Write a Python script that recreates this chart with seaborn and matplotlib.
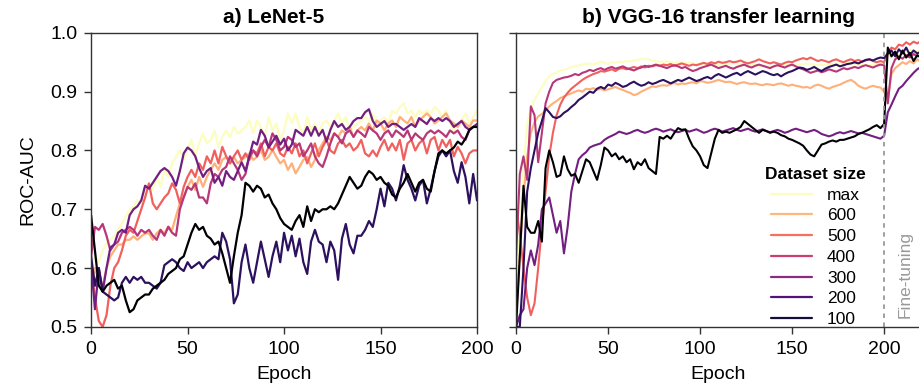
import numpy as np
import pandas as pd
import matplotlib
matplotlib.use("Agg")
import matplotlib.pyplot as plt
from matplotlib.lines import Line2D
import seaborn as sns

# Dataset sizes (legend order) and epochs
sizes = ["max", "600", "500", "400", "300", "200", "100"]
epochs_a = list(range(0, 201, 2))
epochs_b = list(range(0, 221, 2))

# a) LeNet-5, ROC-AUC read every 2 epochs
lenet_max = [0.6, 0.62, 0.61, 0.63, 0.642, 0.648, 0.654, 0.665, 0.676, 0.688,
             0.699, 0.705, 0.716, 0.71, 0.733, 0.744, 0.733, 0.755, 0.738, 0.767,
             0.755, 0.778, 0.789, 0.801, 0.784, 0.801, 0.818, 0.789, 0.812, 0.829,
             0.812, 0.818, 0.834, 0.806, 0.823, 0.834, 0.823, 0.84, 0.829, 0.834,
             0.84, 0.851, 0.829, 0.851, 0.84, 0.823, 0.857, 0.834, 0.846, 0.818,
             0.834, 0.863, 0.846, 0.863, 0.84, 0.829, 0.857, 0.834, 0.846, 0.829,
             0.846, 0.851, 0.84, 0.851, 0.863, 0.846, 0.857, 0.834, 0.84, 0.846,
             0.851, 0.857, 0.851, 0.863, 0.846, 0.851, 0.857, 0.846, 0.868, 0.863,
             0.874, 0.88, 0.863, 0.868, 0.857, 0.868, 0.863, 0.868, 0.863, 0.874,
             0.868, 0.857, 0.868, 0.846, 0.834, 0.846, 0.851, 0.863, 0.846, 0.857,
             0.868]
lenet_600 = [0.56, 0.6, 0.58, 0.57, 0.6, 0.62, 0.63, 0.64, 0.64, 0.648,
             0.648, 0.654, 0.648, 0.654, 0.659, 0.659, 0.648, 0.659, 0.665, 0.659,
             0.671, 0.665, 0.688, 0.71, 0.721, 0.738, 0.75, 0.733, 0.755, 0.738,
             0.755, 0.767, 0.778, 0.767, 0.784, 0.789, 0.778, 0.789, 0.778, 0.784,
             0.789, 0.795, 0.784, 0.789, 0.801, 0.784, 0.789, 0.801, 0.789, 0.778,
             0.784, 0.767, 0.778, 0.761, 0.772, 0.784, 0.789, 0.772, 0.784, 0.801,
             0.812, 0.823, 0.818, 0.829, 0.823, 0.834, 0.829, 0.84, 0.823, 0.834,
             0.84, 0.834, 0.846, 0.834, 0.851, 0.846, 0.834, 0.846, 0.851, 0.84,
             0.857, 0.851, 0.846, 0.857, 0.84, 0.851, 0.857, 0.863, 0.857, 0.846,
             0.851, 0.857, 0.863, 0.851, 0.846, 0.84, 0.851, 0.846, 0.84, 0.851,
             0.851]
lenet_500 = [0.6, 0.55, 0.51, 0.5, 0.52, 0.57, 0.6, 0.61, 0.63, 0.655,
             0.665, 0.66, 0.68, 0.7, 0.72, 0.744, 0.71, 0.7, 0.71, 0.72,
             0.727, 0.744, 0.733, 0.71, 0.738, 0.755, 0.767, 0.755, 0.778, 0.767,
             0.79, 0.778, 0.8, 0.778, 0.806, 0.79, 0.778, 0.79, 0.8, 0.784,
             0.795, 0.784, 0.8, 0.795, 0.812, 0.79, 0.806, 0.8, 0.812, 0.795,
             0.79, 0.806, 0.795, 0.812, 0.79, 0.8, 0.778, 0.795, 0.812, 0.79,
             0.806, 0.818, 0.8, 0.795, 0.812, 0.818, 0.806, 0.812, 0.8, 0.806,
             0.818, 0.795, 0.79, 0.8, 0.79, 0.806, 0.818, 0.8, 0.812, 0.8,
             0.818, 0.784, 0.812, 0.818, 0.8, 0.812, 0.818, 0.795, 0.818, 0.823,
             0.8, 0.818, 0.806, 0.818, 0.79, 0.806, 0.795, 0.778, 0.795, 0.8,
             0.8]
lenet_400 = [0.62, 0.67, 0.665, 0.675, 0.655, 0.63, 0.64, 0.645, 0.66, 0.665,
             0.67, 0.665, 0.655, 0.665, 0.66, 0.665, 0.655, 0.648, 0.665, 0.655,
             0.67, 0.66, 0.655, 0.7, 0.72, 0.738, 0.733, 0.744, 0.72, 0.72,
             0.71, 0.744, 0.76, 0.755, 0.767, 0.772, 0.79, 0.778, 0.767, 0.75,
             0.76, 0.79, 0.8, 0.79, 0.806, 0.818, 0.806, 0.829, 0.818, 0.8,
             0.806, 0.823, 0.818, 0.806, 0.812, 0.79, 0.8, 0.812, 0.79, 0.778,
             0.772, 0.79, 0.812, 0.829, 0.823, 0.812, 0.829, 0.834, 0.823, 0.834,
             0.829, 0.823, 0.84, 0.834, 0.829, 0.818, 0.829, 0.834, 0.823, 0.834,
             0.829, 0.823, 0.834, 0.818, 0.829, 0.823, 0.818, 0.829, 0.834, 0.829,
             0.834, 0.829, 0.823, 0.834, 0.829, 0.834, 0.823, 0.818, 0.834, 0.84,
             0.84]
lenet_300 = [0.61, 0.53, 0.6, 0.56, 0.6, 0.635, 0.64, 0.66, 0.665, 0.66,
             0.69, 0.7, 0.705, 0.715, 0.74, 0.735, 0.745, 0.755, 0.765, 0.77,
             0.765, 0.755, 0.74, 0.765, 0.795, 0.805, 0.8, 0.79, 0.77, 0.755,
             0.765, 0.77, 0.745, 0.755, 0.74, 0.765, 0.755, 0.75, 0.765, 0.78,
             0.765, 0.79, 0.815, 0.81, 0.835, 0.825, 0.805, 0.815, 0.825, 0.81,
             0.82, 0.8, 0.81, 0.835, 0.83, 0.825, 0.84, 0.825, 0.84, 0.825,
             0.835, 0.815, 0.835, 0.85, 0.84, 0.845, 0.835, 0.84, 0.85, 0.855,
             0.855, 0.865, 0.87, 0.85, 0.84, 0.845, 0.85, 0.84, 0.845, 0.845,
             0.84, 0.835, 0.84, 0.845, 0.84, 0.855, 0.85, 0.845, 0.855, 0.85,
             0.855, 0.85, 0.855, 0.85, 0.84, 0.845, 0.85, 0.84, 0.835, 0.84,
             0.845]
lenet_200 = [0.62, 0.57, 0.6, 0.56, 0.555, 0.55, 0.545, 0.55, 0.575, 0.585,
             0.575, 0.585, 0.58, 0.585, 0.575, 0.575, 0.57, 0.565, 0.575, 0.605,
             0.61, 0.615, 0.61, 0.6, 0.595, 0.61, 0.6, 0.605, 0.61, 0.6,
             0.61, 0.615, 0.62, 0.615, 0.66, 0.645, 0.615, 0.54, 0.555, 0.61,
             0.64, 0.6, 0.575, 0.61, 0.645, 0.615, 0.585, 0.62, 0.645, 0.61,
             0.66, 0.63, 0.655, 0.62, 0.65, 0.61, 0.59, 0.645, 0.665, 0.645,
             0.64, 0.61, 0.645, 0.63, 0.58, 0.65, 0.675, 0.64, 0.625, 0.655,
             0.655, 0.665, 0.68, 0.67, 0.7, 0.735, 0.705, 0.745, 0.735, 0.715,
             0.74, 0.775, 0.75, 0.735, 0.715, 0.74, 0.75, 0.71, 0.735, 0.765,
             0.79, 0.8, 0.79, 0.8, 0.765, 0.745, 0.78, 0.755, 0.71, 0.76,
             0.715]
lenet_100 = [0.69, 0.63, 0.57, 0.56, 0.57, 0.575, 0.58, 0.565, 0.57, 0.545,
             0.525, 0.53, 0.545, 0.55, 0.555, 0.555, 0.565, 0.57, 0.575, 0.58,
             0.59, 0.595, 0.6, 0.615, 0.62, 0.64, 0.66, 0.675, 0.665, 0.67,
             0.655, 0.65, 0.64, 0.645, 0.625, 0.6, 0.575, 0.62, 0.66, 0.69,
             0.745, 0.74, 0.73, 0.74, 0.735, 0.72, 0.725, 0.71, 0.7, 0.685,
             0.675, 0.67, 0.665, 0.68, 0.69, 0.67, 0.705, 0.68, 0.7, 0.695,
             0.7, 0.7, 0.705, 0.7, 0.71, 0.725, 0.74, 0.755, 0.745, 0.735,
             0.74, 0.755, 0.765, 0.76, 0.75, 0.755, 0.745, 0.74, 0.725, 0.72,
             0.735, 0.745, 0.76, 0.745, 0.73, 0.745, 0.75, 0.735, 0.73, 0.765,
             0.795, 0.8, 0.795, 0.8, 0.805, 0.815, 0.81, 0.82, 0.835, 0.84,
             0.84]

# b) VGG-16 transfer learning (fine-tuning from epoch 200)
vgg_max = [0.56, 0.66, 0.77, 0.845, 0.872, 0.886, 0.897, 0.908, 0.918, 0.926,
           0.93, 0.933, 0.936, 0.937, 0.939, 0.942, 0.943, 0.945, 0.946, 0.947,
           0.948, 0.946, 0.949, 0.951, 0.949, 0.947, 0.95, 0.949, 0.951, 0.95,
           0.952, 0.951, 0.953, 0.954, 0.955, 0.956, 0.955, 0.953, 0.952, 0.951,
           0.95, 0.952, 0.95, 0.949, 0.951, 0.949, 0.948, 0.95, 0.948, 0.947,
           0.948, 0.947, 0.946, 0.948, 0.946, 0.945, 0.947, 0.948, 0.947, 0.949,
           0.948, 0.947, 0.946, 0.945, 0.946, 0.945, 0.944, 0.943, 0.944, 0.943,
           0.942, 0.944, 0.945, 0.946, 0.945, 0.946, 0.947, 0.946, 0.947, 0.948,
           0.947, 0.946, 0.945, 0.946, 0.945, 0.946, 0.947, 0.948, 0.947, 0.948,
           0.949, 0.948, 0.947, 0.946, 0.945, 0.946, 0.945, 0.946, 0.947, 0.948,
           0.95, 0.962, 0.958, 0.966, 0.962, 0.97, 0.966, 0.972, 0.968, 0.97,
           0.966]
vgg_600 = [0.52, 0.62, 0.72, 0.79, 0.83, 0.848, 0.858, 0.862, 0.868, 0.875,
           0.88, 0.884, 0.889, 0.892, 0.895, 0.897, 0.9, 0.902, 0.9, 0.905,
           0.904, 0.906, 0.903, 0.905, 0.902, 0.904, 0.906, 0.908, 0.905, 0.903,
           0.9, 0.898, 0.894, 0.896, 0.9, 0.903, 0.906, 0.909, 0.908, 0.91,
           0.911, 0.91, 0.913, 0.915, 0.912, 0.914, 0.913, 0.915, 0.916, 0.914,
           0.918, 0.917, 0.915, 0.916, 0.918, 0.92, 0.918, 0.916, 0.917, 0.915,
           0.913, 0.915, 0.916, 0.914, 0.913, 0.914, 0.912, 0.911, 0.913, 0.912,
           0.911, 0.913, 0.914, 0.912, 0.91, 0.912, 0.91, 0.909, 0.907, 0.908,
           0.906, 0.91, 0.912, 0.91, 0.907, 0.905, 0.908, 0.91, 0.912, 0.915,
           0.918, 0.92, 0.916, 0.91, 0.907, 0.905, 0.908, 0.91, 0.908, 0.907,
           0.9, 0.885, 0.93, 0.94, 0.945, 0.95, 0.947, 0.952, 0.948, 0.955,
           0.95]
vgg_500 = [0.7, 0.66, 0.6, 0.55, 0.52, 0.54, 0.6, 0.67, 0.73, 0.79,
           0.83, 0.86, 0.878, 0.89, 0.898, 0.905, 0.91, 0.915, 0.92, 0.924,
           0.927, 0.93, 0.932, 0.935, 0.934, 0.936, 0.938, 0.935, 0.939, 0.94,
           0.938, 0.94, 0.942, 0.94, 0.943, 0.941, 0.944, 0.943, 0.945, 0.944,
           0.946, 0.945, 0.947, 0.944, 0.946, 0.948, 0.946, 0.944, 0.946, 0.945,
           0.947, 0.949, 0.947, 0.95, 0.948, 0.951, 0.949, 0.95, 0.952, 0.95,
           0.951, 0.953, 0.95, 0.948, 0.95, 0.952, 0.955, 0.952, 0.95, 0.948,
           0.95, 0.948, 0.946, 0.949, 0.951, 0.95, 0.953, 0.955, 0.957, 0.955,
           0.958, 0.955, 0.952, 0.954, 0.952, 0.95, 0.953, 0.955, 0.952, 0.95,
           0.953, 0.955, 0.952, 0.954, 0.951, 0.953, 0.955, 0.952, 0.95, 0.952,
           0.95, 0.965, 0.975, 0.972, 0.98, 0.978, 0.984, 0.98, 0.985, 0.982,
           0.986]
vgg_400 = [0.62, 0.76, 0.79, 0.75, 0.875, 0.86, 0.78, 0.83, 0.88, 0.9,
           0.915, 0.92, 0.922, 0.924, 0.925, 0.927, 0.93, 0.928, 0.932, 0.934,
           0.937, 0.935, 0.938, 0.94, 0.937, 0.94, 0.942, 0.939, 0.941, 0.943,
           0.94, 0.938, 0.936, 0.939, 0.941, 0.944, 0.942, 0.944, 0.946, 0.944,
           0.942, 0.94, 0.943, 0.945, 0.943, 0.94, 0.942, 0.938, 0.935, 0.937,
           0.94, 0.942, 0.944, 0.946, 0.943, 0.94, 0.942, 0.944, 0.941, 0.939,
           0.942, 0.944, 0.946, 0.943, 0.941, 0.944, 0.946, 0.944, 0.942, 0.94,
           0.943, 0.945, 0.943, 0.941, 0.944, 0.946, 0.943, 0.94, 0.938, 0.935,
           0.932, 0.934, 0.936, 0.933, 0.935, 0.938, 0.936, 0.934, 0.937, 0.94,
           0.938, 0.94, 0.942, 0.94, 0.943, 0.945, 0.943, 0.941, 0.944, 0.946,
           0.945, 0.88, 0.94, 0.955, 0.96, 0.956, 0.962, 0.958, 0.964, 0.96,
           0.962]
vgg_300 = [0.5, 0.52, 0.53, 0.6, 0.63, 0.605, 0.64, 0.7, 0.71, 0.72,
           0.69, 0.66, 0.68, 0.625, 0.67, 0.73, 0.76, 0.785, 0.792, 0.797,
           0.805, 0.808, 0.81, 0.812, 0.818, 0.822, 0.825, 0.828, 0.832, 0.83,
           0.828, 0.83, 0.833, 0.835, 0.832, 0.83, 0.832, 0.835, 0.837, 0.835,
           0.832, 0.834, 0.836, 0.833, 0.831, 0.833, 0.835, 0.832, 0.834, 0.836,
           0.833, 0.83, 0.832, 0.835, 0.837, 0.835, 0.832, 0.834, 0.836, 0.838,
           0.835, 0.833, 0.835, 0.837, 0.834, 0.832, 0.834, 0.836, 0.833, 0.831,
           0.833, 0.835, 0.833, 0.83, 0.832, 0.835, 0.837, 0.835, 0.833, 0.831,
           0.833, 0.835, 0.832, 0.828, 0.826, 0.824, 0.826, 0.829, 0.831, 0.829,
           0.831, 0.833, 0.831, 0.829, 0.83, 0.828, 0.826, 0.824, 0.822, 0.82,
           0.825, 0.865, 0.878, 0.892, 0.905, 0.91, 0.918, 0.925, 0.932, 0.938,
           0.942]
vgg_200 = [0.5, 0.5, 0.6, 0.73, 0.77, 0.8, 0.83, 0.85, 0.872, 0.865,
           0.857, 0.855, 0.858, 0.864, 0.868, 0.874, 0.879, 0.886, 0.89, 0.895,
           0.9, 0.898, 0.905, 0.908, 0.905, 0.912, 0.91, 0.915, 0.912, 0.908,
           0.91, 0.914, 0.917, 0.913, 0.91, 0.912, 0.916, 0.913, 0.915, 0.918,
           0.92, 0.917, 0.914, 0.917, 0.92, 0.918, 0.921, 0.924, 0.921, 0.918,
           0.92, 0.923, 0.925, 0.922, 0.927, 0.93, 0.927, 0.924, 0.927, 0.93,
           0.932, 0.928, 0.932, 0.935, 0.932, 0.929, 0.932, 0.935, 0.933, 0.93,
           0.928, 0.93, 0.926, 0.93, 0.933, 0.935, 0.938, 0.941, 0.94, 0.937,
           0.939, 0.942, 0.938, 0.935, 0.939, 0.942, 0.944, 0.946, 0.943, 0.945,
           0.947, 0.948, 0.95, 0.948, 0.951, 0.954, 0.955, 0.953, 0.956, 0.958,
           0.957, 0.965, 0.97, 0.96, 0.972, 0.965, 0.975, 0.962, 0.97, 0.965,
           0.968]
vgg_100 = [0.5, 0.62, 0.74, 0.67, 0.66, 0.66, 0.68, 0.645, 0.77, 0.8,
           0.78, 0.755, 0.758, 0.79, 0.768, 0.757, 0.76, 0.745, 0.765, 0.785,
           0.78, 0.765, 0.75, 0.775, 0.805, 0.8, 0.79, 0.795, 0.785, 0.79,
           0.78, 0.785, 0.768, 0.78, 0.775, 0.785, 0.77, 0.765, 0.76, 0.823,
           0.82, 0.825, 0.82, 0.83, 0.838, 0.835, 0.836, 0.82, 0.807, 0.8,
           0.79, 0.775, 0.77, 0.795, 0.82, 0.835, 0.83, 0.832, 0.83, 0.833,
           0.836, 0.84, 0.85, 0.845, 0.84, 0.835, 0.83, 0.835, 0.833, 0.83,
           0.832, 0.83, 0.826, 0.824, 0.82, 0.818, 0.815, 0.812, 0.808, 0.8,
           0.793, 0.79, 0.8, 0.81, 0.812, 0.815, 0.817, 0.815, 0.818, 0.818,
           0.82, 0.822, 0.824, 0.828, 0.83, 0.833, 0.836, 0.84, 0.843, 0.838,
           0.845, 0.975, 0.96, 0.968, 0.955, 0.97, 0.958, 0.966, 0.952, 0.962,
           0.958]

lenet = dict(zip(sizes, [lenet_max, lenet_600, lenet_500, lenet_400,
                         lenet_300, lenet_200, lenet_100]))
vgg = dict(zip(sizes, [vgg_max, vgg_600, vgg_500, vgg_400,
                       vgg_300, vgg_200, vgg_100]))


def to_long(epochs, series):
    frames = [pd.DataFrame({"Epoch": epochs, "auc": vals, "size": name})
              for name, vals in series.items()]
    return pd.concat(frames, ignore_index=True)


df_a = to_long(epochs_a, lenet)
df_b = to_long(epochs_b, vgg)

sns.set_style("ticks")
plt.rcParams["font.family"] = ["Liberation Sans", "DejaVu Sans"]
plt.rcParams["text.color"] = "black"
plt.rcParams["axes.labelcolor"] = "black"
plt.rcParams["axes.edgecolor"] = "#333333"
plt.rcParams["xtick.color"] = "#333333"
plt.rcParams["ytick.color"] = "#333333"
plt.rcParams["xtick.labelcolor"] = "black"
plt.rcParams["ytick.labelcolor"] = "black"

cmap = plt.get_cmap("magma")
line_cols = {s: cmap(v) for s, v in zip(sizes, np.linspace(1, 0, 7))}
legend_cols = {s: cmap(v) for s, v in zip(sizes, np.linspace(1, 0.1, 7))}

fig = plt.figure(figsize=(9.2, 3.91), dpi=100)
ax1 = fig.add_axes([0.099, 0.164, 0.4195, 0.752])
ax2 = fig.add_axes([0.561, 0.164, 0.44, 0.752])

sns.lineplot(data=df_a, x="Epoch", y="auc", hue="size", hue_order=sizes,
             palette=line_cols, estimator=None, linewidth=1.6, legend=False, ax=ax1)
sns.lineplot(data=df_b, x="Epoch", y="auc", hue="size", hue_order=sizes,
             palette=line_cols, estimator=None, linewidth=1.5, legend=False, ax=ax2)

for ax in (ax1, ax2):
    ax.set_ylim(0.5, 1.0)
    ax.set_yticks([0.5, 0.6, 0.7, 0.8, 0.9, 1.0])
    ax.set_xticks([0, 50, 100, 150, 200])
    ax.tick_params(labelsize=14, length=5, width=1, pad=5)
    ax.set_xlabel("Epoch", fontsize=14, labelpad=6)
    for sp in ax.spines.values():
        sp.set_linewidth(1)

ax1.set_xlim(0, 200)
ax1.set_ylabel("ROC-AUC", fontsize=14, labelpad=10)
ax1.set_yticklabels(["0.5", "0.6", "0.7", "0.8", "0.9", "1.0"])
ax1.set_title("a) LeNet-5", fontsize=15, fontweight="bold", x=0.474, pad=7)

ax2.set_xlim(0, 220)
ax2.set_ylabel("")
ax2.set_yticklabels([])
ax2.spines["right"].set_visible(False)
ax2.set_title("b) VGG-16 transfer learning", fontsize=15, fontweight="bold", pad=7)

ax2.axvline(200, color="#999999", linestyle=(0, (2.5, 2.5)), linewidth=1.3)
ax2.text(211.5, 0.515, "Fine-tuning", rotation=90, ha="center", va="bottom",
         fontsize=12.5, color="#999999")

handles = [Line2D([], [], color=legend_cols[s], linewidth=1.6) for s in sizes]
leg = ax2.legend(handles, sizes, title="Dataset size", loc="lower right",
                 bbox_to_anchor=(0.885, -0.03), frameon=False, fontsize=12.5,
                 title_fontsize=12.5, handlelength=2.4, handletextpad=0.85,
                 labelspacing=0.32, borderpad=0)
leg.get_title().set_fontweight("bold")

fig.savefig("out.png", dpi=100)
